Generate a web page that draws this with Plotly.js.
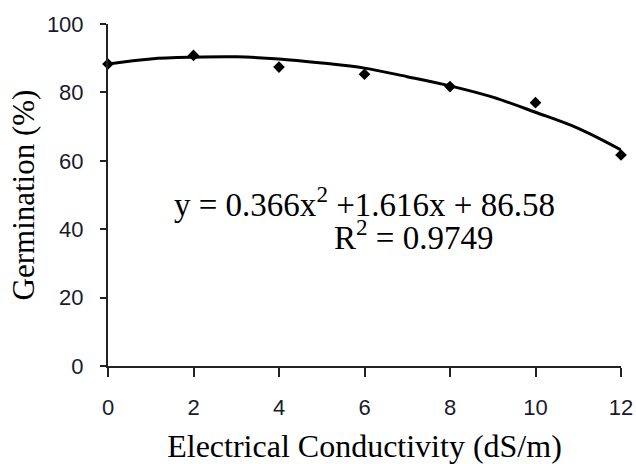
<!DOCTYPE html>
<html><head><meta charset="utf-8">
<script src="https://cdn.plot.ly/plotly-3.0.1.min.js"></script>
<style>html,body{margin:0;padding:0;background:#fff}#chart{width:636px;height:464px}</style>
</head><body><div id="chart"></div>
<script>
const ecValues = [0, 2, 4, 6, 8, 10, 12];
const germination = [88.3, 90.8, 87.4, 85.3, 81.7, 77, 61.7];
const trendX = [0, 1, 2, 3, 4, 5, 6, 7, 8, 9, 10, 11, 12];
const trendY = [88.3, 89.8, 90.3, 90.4, 89.8, 88.6, 87.1, 84.6, 81.9, 78.6, 74.2, 69.5, 63.2];
const xTicks = [0, 2, 4, 6, 8, 10, 12];
const yTicks = [0, 20, 40, 60, 80, 100];

const tickFont = {family: 'Liberation Sans, Arial, sans-serif', size: 22, color: '#1a1a2e'};
const serif = 'Liberation Serif, Times New Roman, serif';

Plotly.newPlot('chart', [
  {x: trendX, y: trendY, mode: 'lines', line: {color: '#000', width: 3, shape: 'spline'}, hoverinfo: 'skip'},
  {x: ecValues, y: germination, mode: 'markers', marker: {symbol: 'diamond', size: 9, color: '#000'}, cliponaxis: false}
], {
  width: 636, height: 464,
  margin: {l: 108, r: 15, t: 24, b: 98},
  showlegend: false,
  paper_bgcolor: '#fff', plot_bgcolor: '#fff',
  xaxis: {range: [0, 12], tickvals: xTicks, ticks: 'outside', ticklen: 9, tickwidth: 2, tickcolor: '#222',
    showline: true, linecolor: '#222', linewidth: 2, showgrid: false, zeroline: false,
    tickfont: tickFont, ticklabelstandoff: 12,
    title: {text: 'Electrical Conductivity (dS/m)', font: {family: serif, size: 32, color: '#000'}, standoff: 19}},
  yaxis: {range: [0, 100], tickvals: yTicks, ticks: 'outside', ticklen: 6, tickwidth: 2, tickcolor: '#222',
    showline: true, linecolor: '#222', linewidth: 2, showgrid: false, zeroline: false,
    tickfont: tickFont, ticklabelstandoff: 12,
    title: {text: 'Germination (%)', font: {family: serif, size: 31, color: '#000'}, standoff: 3}},
  annotations: [
    {x: 1.5, y: 48, xref: 'x', yref: 'y', xanchor: 'left', yanchor: 'middle', showarrow: false,
     text: 'y = 0.366x<sup>2</sup> +1.616x + 86.58', font: {family: serif, size: 33, color: '#000'}},
    {x: 5.24, y: 38.4, xref: 'x', yref: 'y', xanchor: 'left', yanchor: 'middle', showarrow: false,
     text: 'R<sup>2</sup> = 0.9749', font: {family: serif, size: 33, color: '#000'}}
  ]
}, {displayModeBar: false, staticPlot: true});
</script></body></html>
